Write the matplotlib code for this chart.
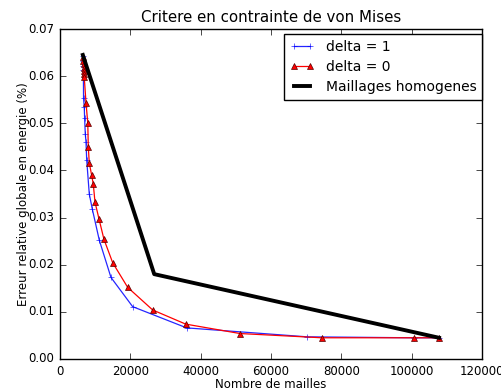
import matplotlib
matplotlib.use("Agg")
import matplotlib.pyplot as plt

plt.style.use('classic')

# delta = 1 (blue, plus markers)
x_d1 = [6500, 6550, 6600, 6650, 6700, 6900, 7000, 7200, 7400, 7600, 8330, 9190, 11180, 14500, 20670, 36030, 70300, 100700, 107800]
y_d1 = [0.0642, 0.0632, 0.0622, 0.0612, 0.0553, 0.0535, 0.0512, 0.0477, 0.0460, 0.0422, 0.0350, 0.0318, 0.0252, 0.0173, 0.0111, 0.0066, 0.0047, 0.0045, 0.0045]

# delta = 0 (red, triangle markers)
x_d0 = [6600, 6650, 6700, 6750, 6800, 6850, 6900, 7400, 7900, 8050, 8330, 9000, 9470, 9950, 11100, 12500, 15000, 19250, 26360, 35750, 51200, 74500, 100700, 107800]
y_d0 = [0.0640, 0.0632, 0.0625, 0.0618, 0.0611, 0.0604, 0.0598, 0.0543, 0.0501, 0.0450, 0.0416, 0.0390, 0.0371, 0.0333, 0.0297, 0.0254, 0.0204, 0.0152, 0.0104, 0.0074, 0.0054, 0.0045, 0.0045, 0.0045]

# Maillages homogenes (black)
x_h = [6500, 26800, 107800]
y_h = [0.0645, 0.0180, 0.0045]

fig = plt.figure(figsize=(5.02, 3.92), dpi=100, facecolor='white')
ax = fig.add_axes([0.1195, 0.0842, 0.8405, 0.8418])

ax.plot(x_d1, y_d1, color='blue', marker='+', markersize=5, linewidth=0.9, label='delta = 1', markeredgecolor='blue', alpha=0.85)
ax.plot(x_d0, y_d0, color='red', marker='^', markersize=5, linewidth=0.9, label='delta = 0', markerfacecolor='red', markeredgecolor='#550000', markeredgewidth=0.5)
ax.plot(x_h, y_h, color='black', linewidth=2.8, label='Maillages homogenes')

ax.set_xlim(0, 120000)
ax.set_ylim(0, 0.07)
ax.set_xticks([0, 20000, 40000, 60000, 80000, 100000, 120000])
ax.set_yticks([0.0, 0.01, 0.02, 0.03, 0.04, 0.05, 0.06, 0.07])
ax.tick_params(labelsize=8.5, pad=4)
ax.set_title('Critere en contrainte de von Mises', fontsize=10.8)
ax.set_xlabel('Nombre de mailles', fontsize=8.5, labelpad=0)
ax.set_ylabel('Erreur relative globale en energie (%)', fontsize=8.5, labelpad=-1)
ax.legend(loc='upper right', bbox_to_anchor=(1.0, 0.985), borderaxespad=0,
          fontsize=10, numpoints=2, handlelength=1.8, labelspacing=0.45,
          borderpad=0.4)

fig.savefig('out.png', dpi=100, facecolor='white')
